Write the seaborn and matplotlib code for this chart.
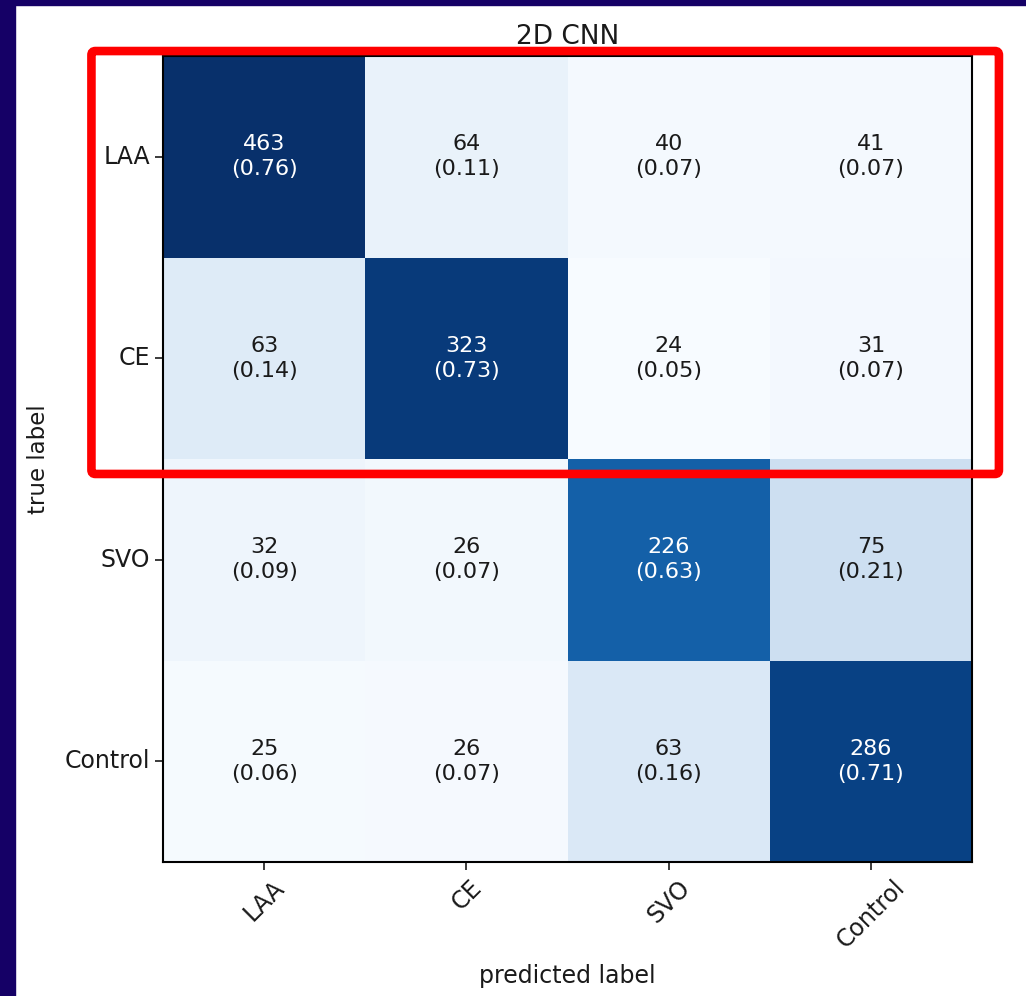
import numpy as np
import matplotlib
matplotlib.use("Agg")
import matplotlib.pyplot as plt
import seaborn as sns
from matplotlib.patches import FancyBboxPatch

# --- data ---
classes = ["LAA", "CE", "SVO", "Control"]
row_laa = [463, 64, 40, 41]
row_ce = [63, 323, 24, 31]
row_svo = [32, 26, 226, 75]
row_control = [25, 26, 63, 286]

counts = np.array([row_laa, row_ce, row_svo, row_control])
norm = counts / counts.sum(axis=1, keepdims=True)

fig = plt.figure(figsize=(10.26, 9.96), dpi=100)
fig.patch.set_facecolor("white")

# dark slide frame (left and top)
fig.patches.append(plt.Rectangle((0, 0), 15 / 1026, 1, transform=fig.transFigure,
                                 color="#150066", zorder=-1))
fig.patches.append(plt.Rectangle((0, 1 - 5 / 996), 1, 5 / 996, transform=fig.transFigure,
                                 color="#150066", zorder=-1))

ax = fig.add_axes([0.1589, 0.1345, 0.7885, 0.8092])
sns.heatmap(norm, cmap="Blues", cbar=False, ax=ax, annot=False,
            xticklabels=classes, yticklabels=classes)

thresh = norm.max() / 2
for i in range(counts.shape[0]):
    for j in range(counts.shape[1]):
        ax.text(j + 0.5, i + 0.5, f"{counts[i, j]}\n({norm[i, j]:.2f})",
                ha="center", va="center", fontsize=16, linespacing=1.3,
                color="white" if norm[i, j] > thresh else "#1a1a1a")

for s in ax.spines.values():
    s.set_visible(True)
    s.set_color("black")
    s.set_linewidth(1.5)
ax.tick_params(length=6, width=1.2, labelsize=17, colors="#1a1a1a")
plt.setp(ax.get_xticklabels(), rotation=45, ha="center")
plt.setp(ax.get_yticklabels(), rotation=0)
ax.set_title("2D CNN", fontsize=19, pad=9, color="#1a1a1a")
ax.set_xlabel("predicted label", fontsize=17, labelpad=8, color="#1a1a1a")
ax.set_ylabel("true label", fontsize=16.5, labelpad=10, color="#1a1a1a")

# red highlight around the first two rows
box = FancyBboxPatch((-0.354, -0.025), 4.487, 2.099, boxstyle="round,pad=0,rounding_size=0.02",
                     transform=ax.transData, clip_on=False, fill=False,
                     edgecolor="#ff0000", linewidth=6.2, zorder=5)
ax.add_patch(box)

plt.savefig("out.png", dpi=100)
plt.close()
